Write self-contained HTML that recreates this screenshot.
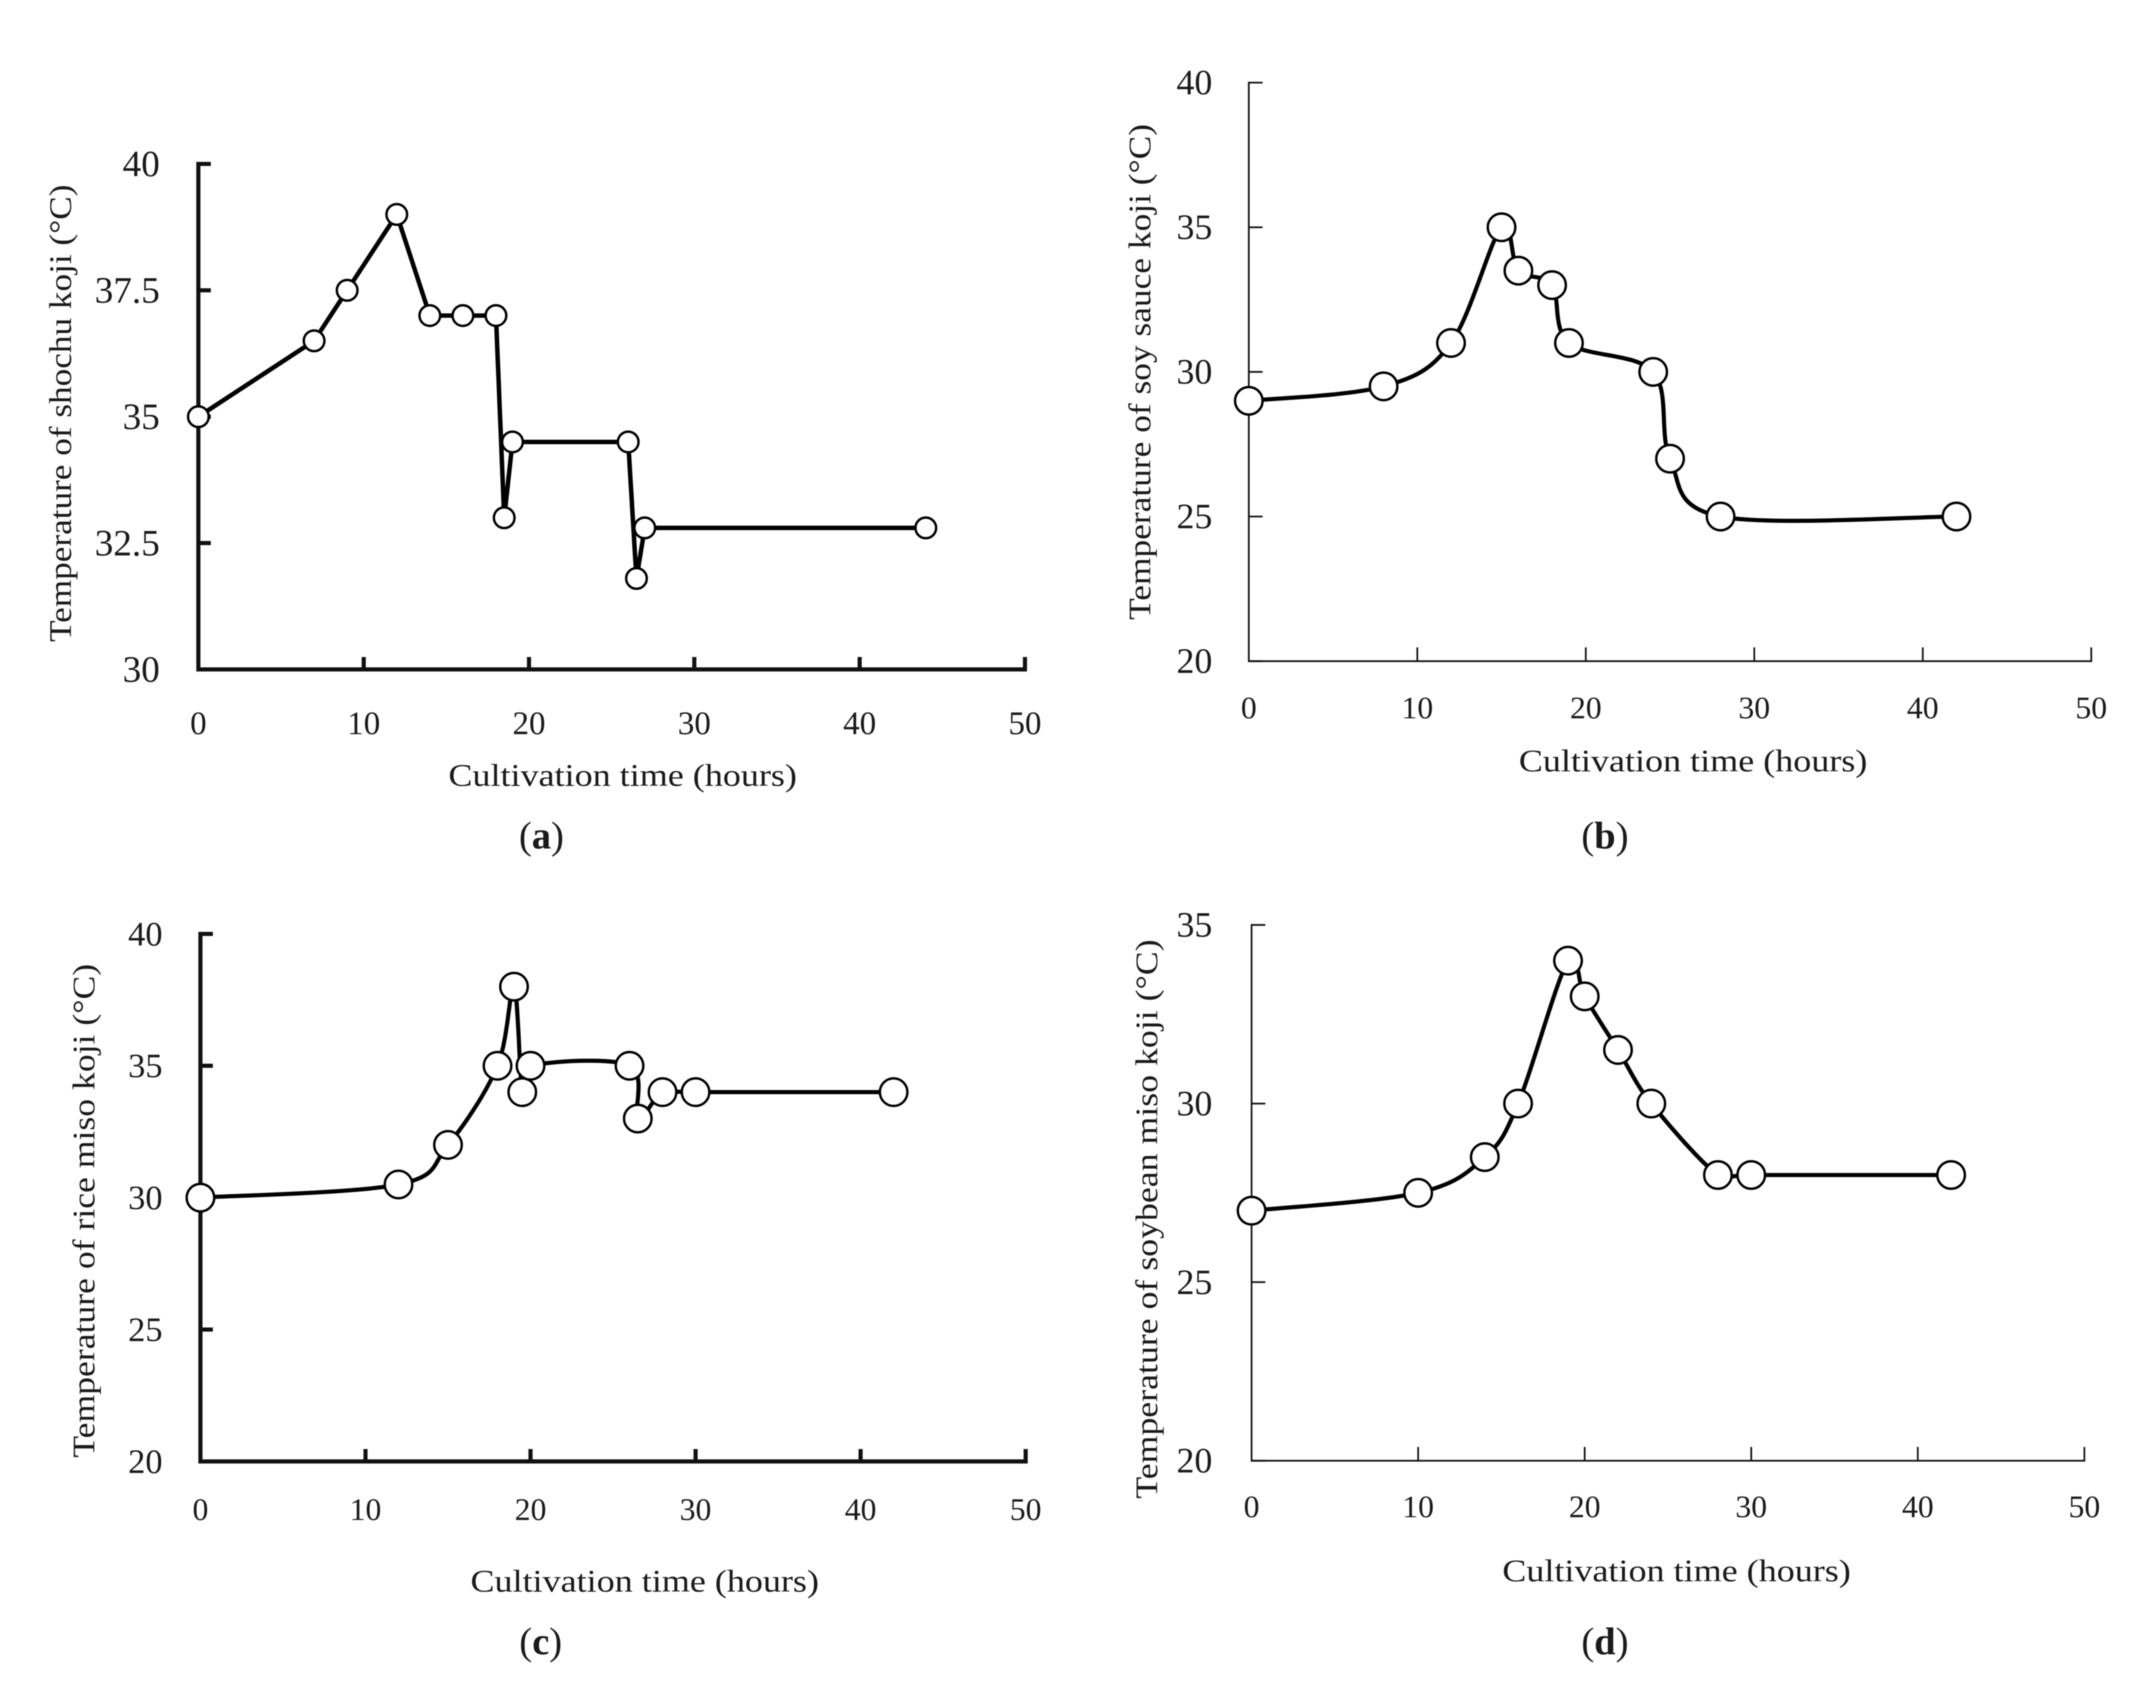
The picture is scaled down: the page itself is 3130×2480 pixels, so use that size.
<!DOCTYPE html>
<html lang="en">
<head>
<meta charset="utf-8">
<title>Koji cultivation temperature charts</title>
<style>
html,body{margin:0;padding:0;background:#fff;}
svg{display:block;filter:blur(0.7px);}
text{font-family:"Liberation Serif",serif;fill:#1a1a1a;}
</style>
</head>
<body>
<svg id="figure" width="3130" height="2480" viewBox="0 0 3130 2480" xmlns="http://www.w3.org/2000/svg">
  <rect width="3130" height="2480" fill="#fff"/>

  <g id="panel-a">
    <text transform="translate(103,600) rotate(-90)" text-anchor="middle" font-size="46" textLength="664" lengthAdjust="spacingAndGlyphs">Temperature of shochu koji (°C)</text>
    <text x="904" y="1141" text-anchor="middle" font-size="46" textLength="506" lengthAdjust="spacingAndGlyphs">Cultivation time (hours)</text>
    <text x="786" y="1232" text-anchor="middle" font-size="56">(<tspan font-weight="bold">a</tspan>)</text>
  </g>

  <g id="panel-b">
    <text transform="translate(1670,540) rotate(-90)" text-anchor="middle" font-size="46" textLength="720" lengthAdjust="spacingAndGlyphs">Temperature of soy sauce koji (°C)</text>
    <text x="2458" y="1120" text-anchor="middle" font-size="46" textLength="506" lengthAdjust="spacingAndGlyphs">Cultivation time (hours)</text>
    <text x="2330" y="1232" text-anchor="middle" font-size="56">(<tspan font-weight="bold">b</tspan>)</text>
  </g>

  <g id="panel-c">
    <text transform="translate(137,1758) rotate(-90)" text-anchor="middle" font-size="46" textLength="717" lengthAdjust="spacingAndGlyphs">Temperature of rice miso koji (°C)</text>
    <text x="936" y="2311" text-anchor="middle" font-size="46" textLength="506" lengthAdjust="spacingAndGlyphs">Cultivation time (hours)</text>
    <text x="785" y="2402" text-anchor="middle" font-size="56">(<tspan font-weight="bold">c</tspan>)</text>
  </g>

  <g id="panel-d">
    <text transform="translate(1680,1770) rotate(-90)" text-anchor="middle" font-size="46" textLength="812" lengthAdjust="spacingAndGlyphs">Temperature of soybean miso koji (°C)</text>
    <text x="2434" y="2296" text-anchor="middle" font-size="46" textLength="506" lengthAdjust="spacingAndGlyphs">Cultivation time (hours)</text>
    <text x="2330" y="2402" text-anchor="middle" font-size="56">(<tspan font-weight="bold">d</tspan>)</text>
  </g>
</svg>

<script>
// Shared x axis
const xTicks = [0, 10, 20, 30, 40, 50];

// Panel (a) shochu koji
const hoursA = [0, 7, 9, 12, 14, 16, 18, 18.5, 19, 26, 26.5, 27, 44];
const tempsA = [35, 36.5, 37.5, 39, 37, 37, 37, 33, 34.5, 34.5, 31.8, 32.8, 32.8];
const yTicksA = [30, 32.5, 35, 37.5, 40];

// Panel (b) soy sauce koji
const hoursB = [0, 8, 12, 15, 16, 18, 19, 24, 25, 28, 42];
const tempsB = [29, 29.5, 31, 35, 33.5, 33, 31, 30, 27, 25, 25];
const yTicksB = [20, 25, 30, 35, 40];

// Panel (c) rice miso koji
const hoursC = [0, 12, 15, 18, 19, 19.5, 20, 26, 26.5, 28, 30, 42];
const tempsC = [30, 30.5, 32, 35, 38, 34, 35, 35, 33, 34, 34, 34];
const yTicksC = [20, 25, 30, 35, 40];

// Panel (d) soybean miso koji
const hoursD = [0, 10, 14, 16, 19, 20, 22, 24, 28, 30, 42];
const tempsD = [27, 27.5, 28.5, 30, 34, 33, 31.5, 30, 28, 28, 28];
const yTicksD = [20, 25, 30, 35];

const NS = 'http://www.w3.org/2000/svg';

function make(tag, attrs, parent) {
  const el = document.createElementNS(NS, tag);
  for (const k in attrs) el.setAttribute(k, attrs[k]);
  parent.appendChild(el);
  return el;
}

function straightPath(pts) {
  return pts.map((p, i) => (i ? 'L' : 'M') + p[0].toFixed(1) + ' ' + p[1].toFixed(1)).join(' ');
}

function smoothPath(pts) {
  let d = 'M' + pts[0][0].toFixed(1) + ' ' + pts[0][1].toFixed(1);
  for (let i = 0; i < pts.length - 1; i++) {
    const p0 = pts[Math.max(0, i - 1)], p1 = pts[i], p2 = pts[i + 1], p3 = pts[Math.min(pts.length - 1, i + 2)];
    const c1x = p1[0] + (p2[0] - p0[0]) / 6, c1y = p1[1] + (p2[1] - p0[1]) / 6;
    const c2x = p2[0] - (p3[0] - p1[0]) / 6, c2y = p2[1] - (p3[1] - p1[1]) / 6;
    d += ' C' + c1x.toFixed(1) + ' ' + c1y.toFixed(1) + ' ' + c2x.toFixed(1) + ' ' + c2y.toFixed(1) + ' ' + p2[0].toFixed(1) + ' ' + p2[1].toFixed(1);
  }
  return d;
}

function drawPanel(opt) {
  const host = document.getElementById(opt.id);
  const xScale = v => opt.x0 + (v - xTicks[0]) / (xTicks[xTicks.length - 1] - xTicks[0]) * (opt.x1 - opt.x0);
  const yMin = opt.yTicks[0], yMax = opt.yTicks[opt.yTicks.length - 1];
  const yScale = v => opt.yBottom - (v - yMin) / (yMax - yMin) * (opt.yBottom - opt.yTop);

  const yAxis = make('line', {x1: opt.x0, x2: opt.x0, y1: opt.yTop - opt.axisW / 2, y2: opt.yBottom + opt.axisW / 2, stroke: '#111', 'stroke-width': opt.axisW}, host);
  
  

  const xAxis = make('line', {x1: opt.x0, x2: opt.x1 + opt.axisW / 2, y1: opt.yBottom, y2: opt.yBottom, stroke: '#111', 'stroke-width': opt.axisW}, host);
  
  

  opt.yTicks.forEach(v => {
    const t = make('line', {x1: opt.x0, x2: opt.x0 + opt.tick, y1: yScale(v), y2: yScale(v), stroke: '#111', 'stroke-width': opt.axisW}, host);
    
    
    const lab = make('text', {x: opt.yLabelX, y: yScale(v) + opt.yFont * 0.33, 'text-anchor': 'end', 'font-size': opt.yFont}, host);
    
    
    lab.textContent = String(v);
  });

  xTicks.forEach(v => {
    if (v !== xTicks[0]) {
      const t = make('line', {x1: xScale(v), x2: xScale(v), y1: opt.yBottom, y2: opt.yBottom - opt.tick, stroke: '#111', 'stroke-width': opt.axisW}, host);
      
      
    }
    const lab = make('text', {x: xScale(v), y: opt.xLabelY + opt.xFont * 0.33, 'text-anchor': 'middle', 'font-size': opt.xFont}, host);
    
    
    lab.textContent = String(v);
  });

  const pts = opt.hours.map((h, i) => [xScale(h), yScale(opt.temps[i])]);
  const line = make('path', {d: opt.smooth ? smoothPath(pts) : straightPath(pts), fill: 'none', stroke: '#000', 'stroke-width': opt.lineW, 'stroke-linejoin': 'round'}, host);
  
  

  pts.forEach(p => {
    const c = make('circle', {cx: p[0], cy: p[1], r: opt.r, fill: '#fff', stroke: '#000', 'stroke-width': opt.markW}, host);
    
    
  });
}

drawPanel({id: 'panel-a', hours: hoursA, temps: tempsA, yTicks: yTicksA, smooth: false,
  x0: 288, x1: 1488, yTop: 238, yBottom: 972, axisW: 6, tick: 18, lineW: 6.5, markW: 3.5, r: 15,
  yLabelX: 232, yFont: 54, xLabelY: 1050, xFont: 48});
drawPanel({id: 'panel-b', hours: hoursB, temps: tempsB, yTicks: yTicksB, smooth: true,
  x0: 1813, x1: 3036, yTop: 120, yBottom: 960, axisW: 2.5, tick: 20, lineW: 6, markW: 3.5, r: 20,
  yLabelX: 1760, yFont: 52, xLabelY: 1028, xFont: 46});
drawPanel({id: 'panel-c', hours: hoursC, temps: tempsC, yTicks: yTicksC, smooth: true,
  x0: 291, x1: 1489, yTop: 1356, yBottom: 2122, axisW: 6, tick: 18, lineW: 6, markW: 3.5, r: 20,
  yLabelX: 236, yFont: 50, xLabelY: 2192, xFont: 46});
drawPanel({id: 'panel-d', hours: hoursD, temps: tempsD, yTicks: yTicksD, smooth: true,
  x0: 1817, x1: 3026, yTop: 1343, yBottom: 2121, axisW: 2.5, tick: 20, lineW: 6, markW: 3.5, r: 20,
  yLabelX: 1760, yFont: 52, xLabelY: 2188, xFont: 46});
</script>
</body>
</html>
